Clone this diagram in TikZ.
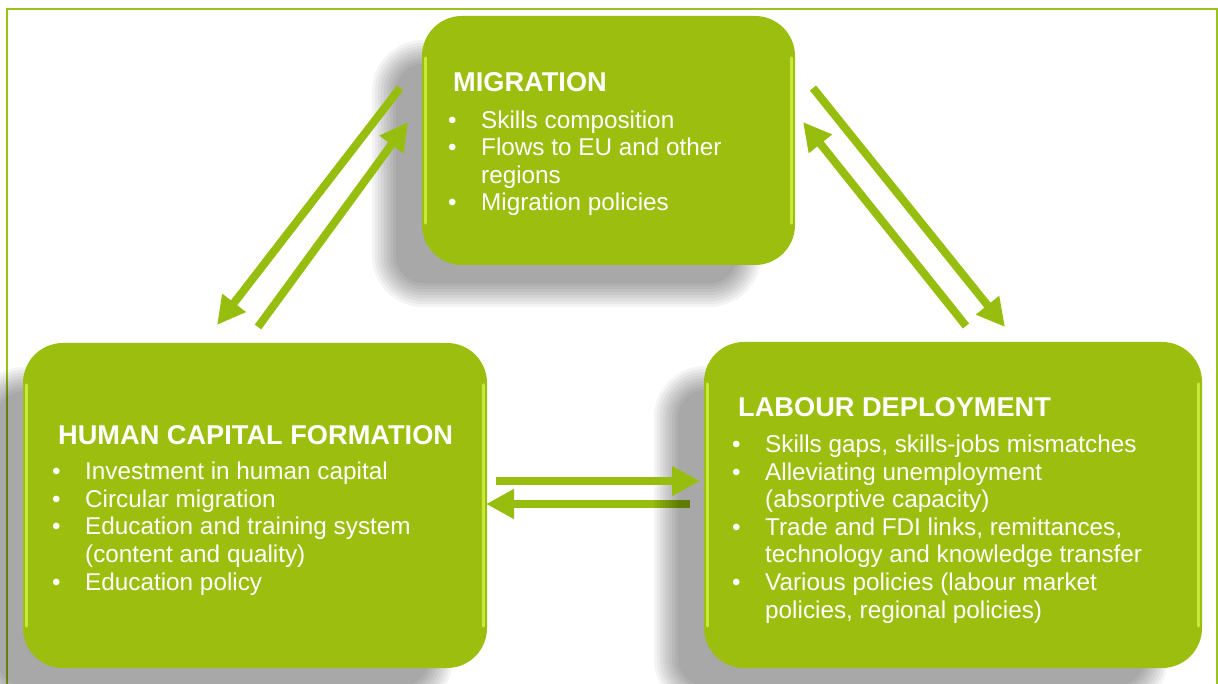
\documentclass[tikz,border=0pt]{standalone}
\usepackage{fontspec}
\setmainfont{Liberation Sans}
\usetikzlibrary{arrows.meta,calc}
\definecolor{boxgreen}{RGB}{155,190,15}
\definecolor{arrgreen}{RGB}{151,189,14}
\definecolor{hilite}{RGB}{214,250,70}
\definecolor{framegreen}{RGB}{155,195,25}
\newcommand\bul{\makebox[33pt][l]{\textbullet}}
\newcommand\ind{\hspace*{33pt}}
\pgfdeclarelayer{bg}
\pgfdeclarelayer{shadowlayer}
\pgfsetlayers{bg,shadowlayer,main}
\tikzset{
  greenbox/.style={rounded corners=40pt, fill=boxgreen, inner sep=0pt},
  hl/.style={draw=hilite, line width=3pt, opacity=0.75, line cap=round},
  arr/.style={draw=arrgreen, line width=8pt, -{Triangle[length=28pt,width=28pt]}},
  title/.style={anchor=base west, inner sep=0pt, text=white, font=\bfseries\fontsize{27.2}{32}\selectfont},
  body/.style={anchor=base west, inner sep=0pt, text=white, align=left, font=\fontsize{24.3}{27.6}\selectfont},
  shadowpiece/.style={fill=black, opacity=0.045},
}
\begin{document}
\begin{tikzpicture}[x=1pt,y=-1pt]
\useasboundingbox (0,0) rectangle (1218,684);
\begin{pgfonlayer}{bg}
\fill[white] (0,0) rectangle (1218,684);
\draw[framegreen, line width=2pt] (7,9) rectangle (1217,720);
\end{pgfonlayer}

% boxes
\node[greenbox, minimum width=373pt, minimum height=249pt] (mig) at (608.5,140.5) {};
\node[greenbox, minimum width=464pt, minimum height=325pt] (hcf) at (255,505.5) {};
\node[greenbox, minimum width=498pt, minimum height=326pt] (lab) at (953,505) {};

% soft shadows
\begin{pgfonlayer}{shadowlayer}
\foreach \b in {mig,hcf,lab}{
  \foreach \e in {-12,-9,...,12}{
    \pgfmathsetmacro\rr{max(40+\e,4)}
    \fill[shadowpiece, rounded corners=\rr pt]
      ($(\b.north west)+(-38-\e, 36-\e)$) rectangle ($(\b.south east)+(-46+\e, 30+\e)$);
  }
}
\end{pgfonlayer}

% edge highlights
\foreach \b in {mig,hcf,lab}{
  \draw[hl] ($(\b.north west)+(4,42)$) -- ($(\b.south west)+(4,-42)$);
  \draw[hl] ($(\b.north east)+(-4,42)$) -- ($(\b.south east)+(-4,-42)$);
}

% texts
\node[title] (mt) at (453,92) {MIGRATION};
\node[body] (mb) at (448,211) {\bul Skills composition\\
\bul Flows to EU and other\\
\ind regions\\
\bul Migration policies};

\node[title] (ht) at (58,444) {HUMAN CAPITAL FORMATION};
\node[body] (hb) at (52,590) {\bul Investment in human capital\\
\bul Circular migration\\
\bul Education and training system\\
\ind (content and quality)\\
\bul Education policy};

\node[title] (lt) at (738,416) {LABOUR DEPLOYMENT};
\node[body] (lb) at (732,618) {\bul Skills gaps, skills-jobs mismatches\\
\bul Alleviating unemployment\\
\ind (absorptive capacity)\\
\bul Trade and FDI links, remittances,\\
\ind technology and knowledge transfer\\
\bul Various policies (labour market\\
\ind policies, regional policies)};

% arrow end points
\coordinate (a1s) at (400,88);  \coordinate (a1e) at (217,325);
\coordinate (a2s) at (258,327); \coordinate (a2e) at (408,122);
\coordinate (a3s) at (813,88);  \coordinate (a3e) at (1005,327);
\coordinate (a4s) at (966,326); \coordinate (a4e) at (803,122);
\coordinate (a5s) at (496,481); \coordinate (a5e) at (700,481);
\coordinate (a6s) at (690,504); \coordinate (a6e) at (486,504);

\draw[arr] (a1s) -- (a1e);
\draw[arr] (a2s) -- (a2e);
\draw[arr] (a3s) -- (a3e);
\draw[arr] (a4s) -- (a4e);
\draw[arr] (a5s) -- (a5e);
\begin{pgfonlayer}{bg}
\draw[arr] (a6s) -- (a6e);
\end{pgfonlayer}
\end{tikzpicture}
\end{document}
